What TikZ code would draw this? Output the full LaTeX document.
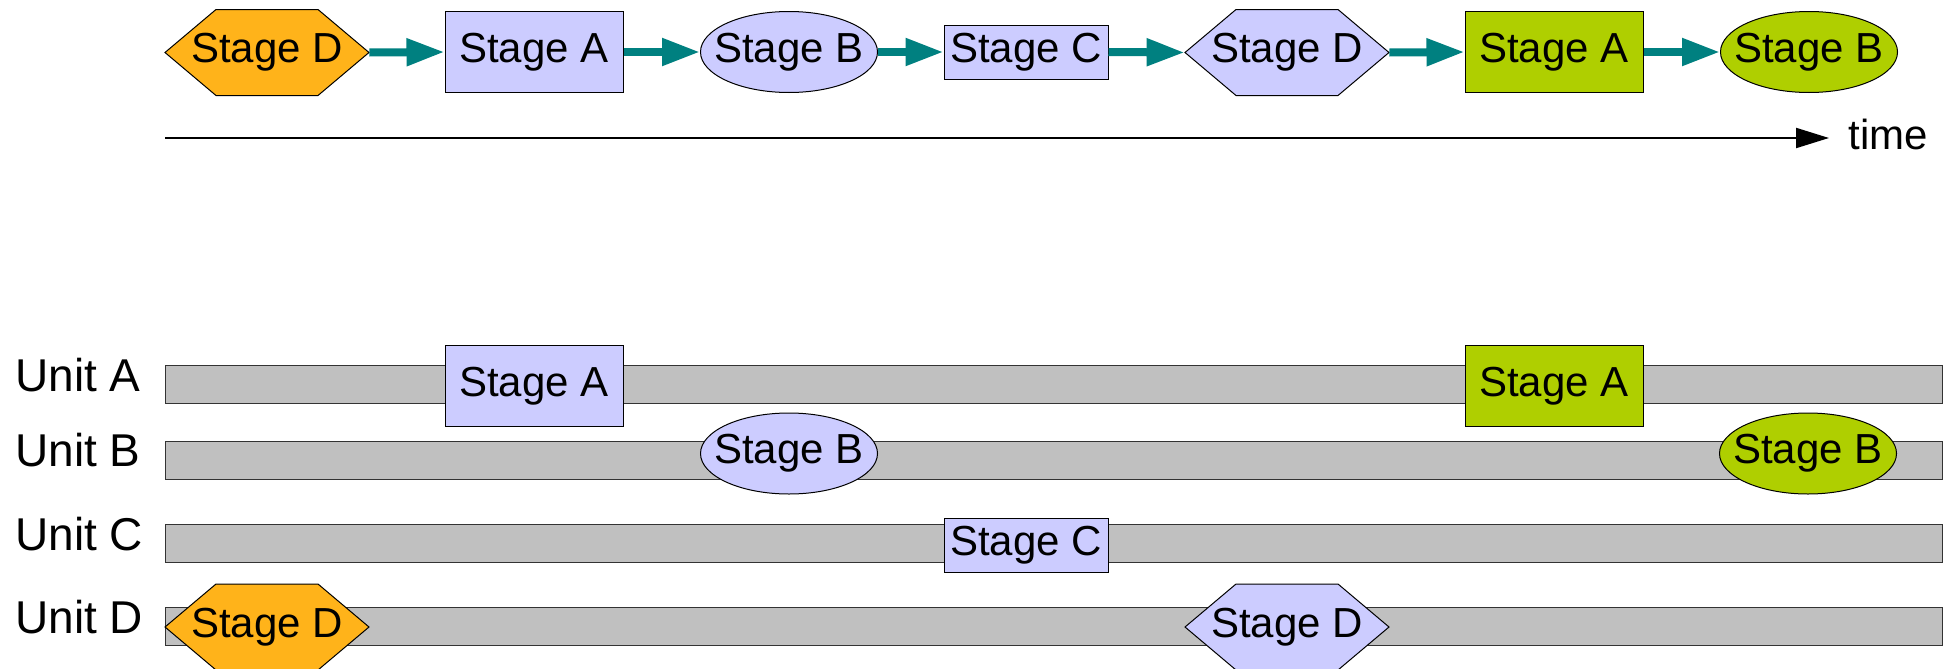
\documentclass[tikz,border=0pt]{standalone}
\usepackage{fontspec}
\setmainfont{Liberation Sans}
\usetikzlibrary{shapes.geometric,arrows.meta,calc}
\definecolor{lav}{HTML}{CCCCFF}
\definecolor{orng}{HTML}{FFB31A}
\definecolor{grn}{HTML}{AFCF00}
\definecolor{barg}{HTML}{C0C0C0}
\definecolor{tealc}{HTML}{008080}
\newcommand{\hexstage}[4]{%
  \coordinate (#1c) at #2;
  \draw[hexline, fill=#3] ($(#1c)+(-102,0)$) -- ($(#1c)+(-51,-43)$) -- ($(#1c)+(51,-43)$) -- ($(#1c)+(102,0)$) -- ($(#1c)+(51,43)$) -- ($(#1c)+(-51,43)$) -- cycle;
  \node[hexbox] (#1) at (#1c) {#4};}
\newcommand{\ellbox}[1]{\makebox[60pt][c]{#1}}
\begin{document}
\begin{tikzpicture}[x=0.5pt,y=-0.5pt,
  stf/.style={font=\fontsize{21pt}{25pt}\selectfont, inner sep=0pt},
  boxst/.style={stf, draw=black, line width=0.5pt, rectangle},
  rectA/.style={boxst, minimum width=89pt, minimum height=40.5pt},
  rectC/.style={boxst, minimum width=82pt, minimum height=27pt},
  ellB/.style={stf, draw=black, line width=0.5pt, ellipse, minimum width=88.5pt, minimum height=40.5pt},
  hexbox/.style={stf, minimum width=102pt, minimum height=43pt},
  hexline/.style={draw=black, line width=0.5pt},
  flow/.style={draw=tealc, line width=4pt, -{Triangle[length=19pt,width=13pt]}},
  bar/.style={draw=black!80, line width=0.5pt, fill=barg, minimum width=888.5pt, minimum height=19pt, inner sep=0pt},
  unitlbl/.style={font=\fontsize{23pt}{27pt}\selectfont, inner sep=0pt, anchor=west},
]
\useasboundingbox (0,0) rectangle (1943,669);
% top sequence
\hexstage{d1}{(267,52.5)}{orng}{Stage D}
\node[rectA, fill=lav] (a1) at (534,52) {Stage A};
\node[ellB, fill=lav] (b1) at (789,52) {\ellbox{Stage B}};
\node[rectC, fill=lav] (c1) at (1026,52) {Stage C};
\hexstage{d2}{(1287,52.5)}{lav}{Stage D}
\node[rectA, fill=grn] (a2) at (1554,52) {Stage A};
\node[ellB, fill=grn] (b2) at (1809,52) {\ellbox{Stage B}};
\draw[flow] (d1.east) -- (a1.west);
\draw[flow] (a1.east) -- (b1.west);
\draw[flow] (b1.east) -- (c1.west);
\draw[flow] (c1.east) -- (d2.west);
\draw[flow] (d2.east) -- (a2.west);
\draw[flow] (a2.east) -- (b2.west);
% time axis
\coordinate (t0) at (165,138);
\coordinate (t1) at (1829,138);
\draw[line width=1pt, -{Triangle[length=16.5pt,width=10pt]}] (t0) -- (t1);
\node[stf, anchor=west] (time) at (1848,134) {time};
% unit bars
\node[bar] (barA) at (1053.5,384) {};
\node[bar] (barB) at (1053.5,460) {};
\node[bar] (barC) at (1053.5,543) {};
\node[bar] (barD) at (1053.5,626) {};
\node[unitlbl] (uA) at (15,375) {Unit A};
\node[unitlbl] (uB) at (15,450) {Unit B};
\node[unitlbl] (uC) at (15,534) {Unit C};
\node[unitlbl] (uD) at (15,617) {Unit D};
% stages on bars
\node[rectA, fill=lav] (a3) at (534,386) {Stage A};
\node[rectA, fill=grn] (a4) at (1554,386) {Stage A};
\node[ellB, fill=lav] (b3) at (789,453.5) {\ellbox{Stage B}};
\node[ellB, fill=grn] (b4) at (1808,453.5) {\ellbox{Stage B}};
\node[rectC, fill=lav] (c3) at (1026,545) {Stage C};
\hexstage{d3}{(267,627)}{orng}{Stage D}
\hexstage{d4}{(1287,627)}{lav}{Stage D}
\end{tikzpicture}
\end{document}
